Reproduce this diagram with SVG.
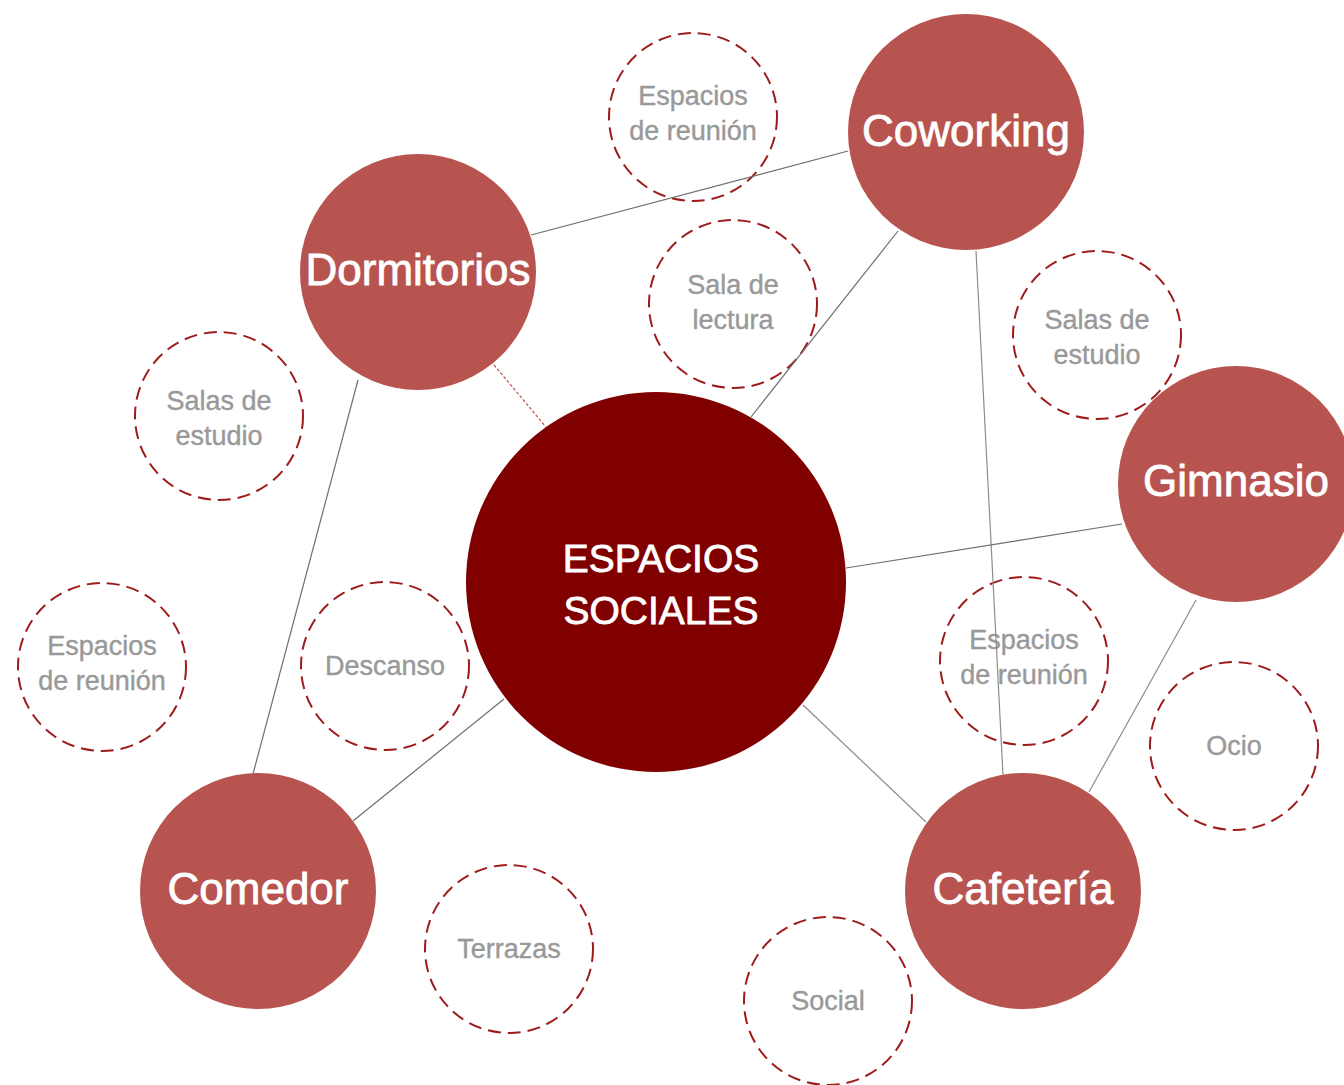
<svg xmlns="http://www.w3.org/2000/svg" width="1344" height="1085" viewBox="0 0 1344 1085">
<style>
.sub{fill:#fff;stroke:#9e1b1b;stroke-width:2;stroke-dasharray:13 7}
.st{font-family:"Liberation Sans",Arial,sans-serif;font-size:27px;fill:#999;stroke:#999;stroke-width:0.4;text-anchor:middle}
.node{fill:#b85450}
.nt{font-family:"Liberation Sans",Arial,sans-serif;font-size:44px;fill:#fff;stroke:#fff;stroke-width:0.8;text-anchor:middle}
.ct{font-family:"Liberation Sans",Arial,sans-serif;font-size:39px;fill:#fff;stroke:#fff;stroke-width:0.8;text-anchor:middle}
.ln{stroke:#6e6e6e;stroke-width:1.2;fill:none}
.lg{stroke:#8c8c8c;stroke-width:1.2;fill:none}
.ld{stroke:#c0504d;stroke-width:1.2;stroke-dasharray:3 2;fill:none}
</style>
<rect width="1344" height="1085" fill="#fff"/>
<g id="sub-reunion-top"><circle class="sub" cx="693" cy="117" r="84"/><text class="st" x="693" y="105">Espacios</text><text class="st" x="693" y="140">de reunión</text></g>
<g id="sub-lectura"><circle class="sub" cx="733" cy="304" r="84"/><text class="st" x="733" y="294">Sala de</text><text class="st" x="733" y="329">lectura</text></g>
<g id="sub-estudio-right"><circle class="sub" cx="1097" cy="335" r="84"/><text class="st" x="1097" y="329">Salas de</text><text class="st" x="1097" y="364">estudio</text></g>
<g id="sub-estudio-left"><circle class="sub" cx="219" cy="416" r="84"/><text class="st" x="219" y="410">Salas de</text><text class="st" x="219" y="445">estudio</text></g>
<g id="sub-reunion-left"><circle class="sub" cx="102" cy="667" r="84"/><text class="st" x="102" y="655">Espacios</text><text class="st" x="102" y="690">de reunión</text></g>
<g id="sub-descanso"><circle class="sub" cx="385" cy="666" r="84"/><text class="st" x="385" y="675">Descanso</text></g>
<g id="sub-reunion-right"><circle class="sub" cx="1024" cy="661" r="84"/><text class="st" x="1024" y="649">Espacios</text><text class="st" x="1024" y="684">de reunión</text></g>
<g id="sub-ocio"><circle class="sub" cx="1234" cy="746" r="84"/><text class="st" x="1234" y="755">Ocio</text></g>
<g id="sub-terrazas"><circle class="sub" cx="509" cy="949" r="84"/><text class="st" x="509" y="958">Terrazas</text></g>
<g id="sub-social"><circle class="sub" cx="828" cy="1001" r="84"/><text class="st" x="828" y="1010">Social</text></g>
<g id="connectors">
<line class="ln" x1="531" y1="235" x2="848" y2="151"/>
<line class="ln" x1="898" y1="231" x2="751" y2="417"/>
<line class="lg" x1="976" y1="251" x2="1003" y2="775"/>
<line class="ln" x1="1122" y1="524" x2="846" y2="568"/>
<line class="lg" x1="1196" y1="600" x2="1089" y2="792"/>
<line class="lg" x1="803" y1="705" x2="926" y2="822"/>
<line class="ln" x1="504" y1="699" x2="353" y2="821"/>
<line class="ln" x1="358" y1="380" x2="253" y2="774"/>
<line class="ld" x1="494" y1="365" x2="546" y2="427"/>
</g>
<g id="center"><circle cx="656" cy="582" r="190" fill="#800000"/><text class="ct" x="661" y="572">ESPACIOS</text><text class="ct" x="661" y="624">SOCIALES</text></g>
<g id="coworking"><circle class="node" cx="966" cy="132" r="118"/><text class="nt" x="966" y="146">Coworking</text></g>
<g id="dormitorios"><circle class="node" cx="418" cy="272" r="118"/><text class="nt" x="418" y="285">Dormitorios</text></g>
<g id="gimnasio"><circle class="node" cx="1236" cy="484" r="118"/><text class="nt" x="1236" y="496">Gimnasio</text></g>
<g id="comedor"><circle class="node" cx="258" cy="891" r="118"/><text class="nt" x="258" y="904">Comedor</text></g>
<g id="cafeteria"><circle class="node" cx="1023" cy="891" r="118"/><text class="nt" x="1023" y="904">Cafetería</text></g>
</svg>
